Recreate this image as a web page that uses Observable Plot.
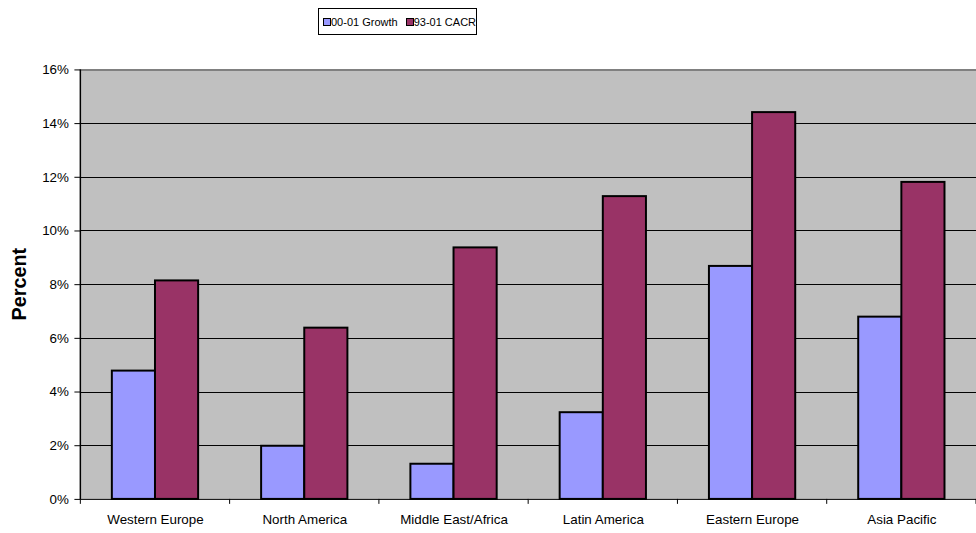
<!DOCTYPE html>
<html>
<head>
<meta charset="utf-8">
<script src="https://cdn.jsdelivr.net/npm/d3@7"></script>
<script src="https://cdn.jsdelivr.net/npm/@observablehq/plot@0.6"></script>
<style>
  html, body { margin: 0; padding: 0; background: #fff; overflow: hidden; }
  #wrap { position: relative; width: 976px; height: 533px; overflow: hidden;
          font-family: "Liberation Sans", Arial, sans-serif; }
  #chart { position: absolute; left: 0; top: 0; }
  #chart svg { display: block; }
  #legend { position: absolute; left: 318px; top: 8px; width: 159px; height: 27px;
            box-sizing: border-box; border: 1px solid #000; background: #fff;
            display: flex; align-items: center; padding-left: 4px;
            font-size: 11px; color: #000; white-space: nowrap; }
  #legend .item { display: flex; align-items: center; margin-right: 8px; }
  #legend .sw { width: 8px; height: 8px; box-sizing: border-box; border: 1.5px solid #000; }
</style>
</head>
<body>
<div id="wrap">
  <div id="chart"></div>
  <div id="legend"></div>
</div>
<script>
// Regional growth rates, in percent
const regions = ["Western Europe", "North America", "Middle East/Africa", "Latin America", "Eastern Europe", "Asia Pacific"];
const series = ["00-01 Growth", "93-01 CACR"];
const growth = [4.78, 1.98, 1.31, 3.23, 8.68, 6.79];
const cacr = [8.14, 6.38, 9.37, 11.28, 14.41, 11.81];
const yTicks = [0, 2, 4, 6, 8, 10, 12, 14, 16];
const colors = ["#9999FF", "#993366"];

const data = regions.flatMap((region, i) => [
  {region, series: series[0], value: growth[i]},
  {region, series: series[1], value: cacr[i]}
]);

const font = "Liberation Sans, Arial, sans-serif";

const chart = Plot.plot({
  width: 984,
  height: 533,
  marginLeft: 81,
  marginRight: 0,
  marginTop: 70,
  marginBottom: 30,
  style: {fontFamily: font, fontSize: "13.5px", color: "#000", background: "transparent"},
  fx: {domain: regions, padding: 0, round: false, label: null},
  x: {domain: series, paddingInner: 0, paddingOuter: 0.73, round: false, axis: null},
  y: {domain: [0, 16], label: null},
  color: {domain: series, range: colors},
  marks: [
    Plot.frame({fill: "#c0c0c0", shapeRendering: "crispEdges"}),
    Plot.gridY(yTicks.slice(1, -1), {stroke: "#000", strokeOpacity: 1, shapeRendering: "crispEdges"}),
    Plot.frame({anchor: "top", stroke: "#808080", strokeWidth: 2}),
    Plot.barY(data, {fx: "region", x: "series", y: "value", fill: "series", stroke: "#000", strokeWidth: 2}),
    Plot.ruleY([0], {stroke: "#000"}),
    Plot.axisY(yTicks, {tickSize: 6, tickPadding: 6, tickFormat: d => d + "%", label: null, fontSize: 13.5}),
    Plot.axisFx({anchor: "bottom", tickSize: 0, tickPadding: 15, label: null, fontSize: 13.5})
  ]
});

document.getElementById("chart").appendChild(chart);

// Category boundary ticks, left axis line and the axis title
const svg = d3.select(chart);
const fx = chart.scale("fx");
const y = chart.scale("y");
const y0 = y.apply(0), y1 = y.apply(16);
const edges = regions.map(r => fx.apply(r)).concat(fx.apply(regions[regions.length - 1]) + fx.bandwidth);

svg.append("g")
  .selectAll("line")
  .data(edges)
  .join("line")
  .attr("x1", d => d).attr("x2", d => d)
  .attr("y1", y0).attr("y2", y0 + 5)
  .attr("stroke", "#000");

svg.append("line")
  .attr("x1", edges[0]).attr("x2", edges[0])
  .attr("y1", y1).attr("y2", y0)
  .attr("stroke", "#000")
  .attr("stroke-width", 1.5);

svg.append("text")
  .attr("transform", `translate(19.5,${(y0 + y1) / 2}) rotate(-90)`)
  .attr("text-anchor", "middle")
  .attr("dy", "0.35em")
  .attr("font-family", font)
  .attr("font-weight", "bold")
  .attr("font-size", 20)
  .attr("fill", "#000")
  .text("Percent");

// Legend
const legend = d3.select("#legend");
series.forEach((s, i) => {
  const item = legend.append("div").attr("class", "item");
  item.append("div").attr("class", "sw").style("background", colors[i]);
  item.append("span").text(s);
});
</script>
</body>
</html>
